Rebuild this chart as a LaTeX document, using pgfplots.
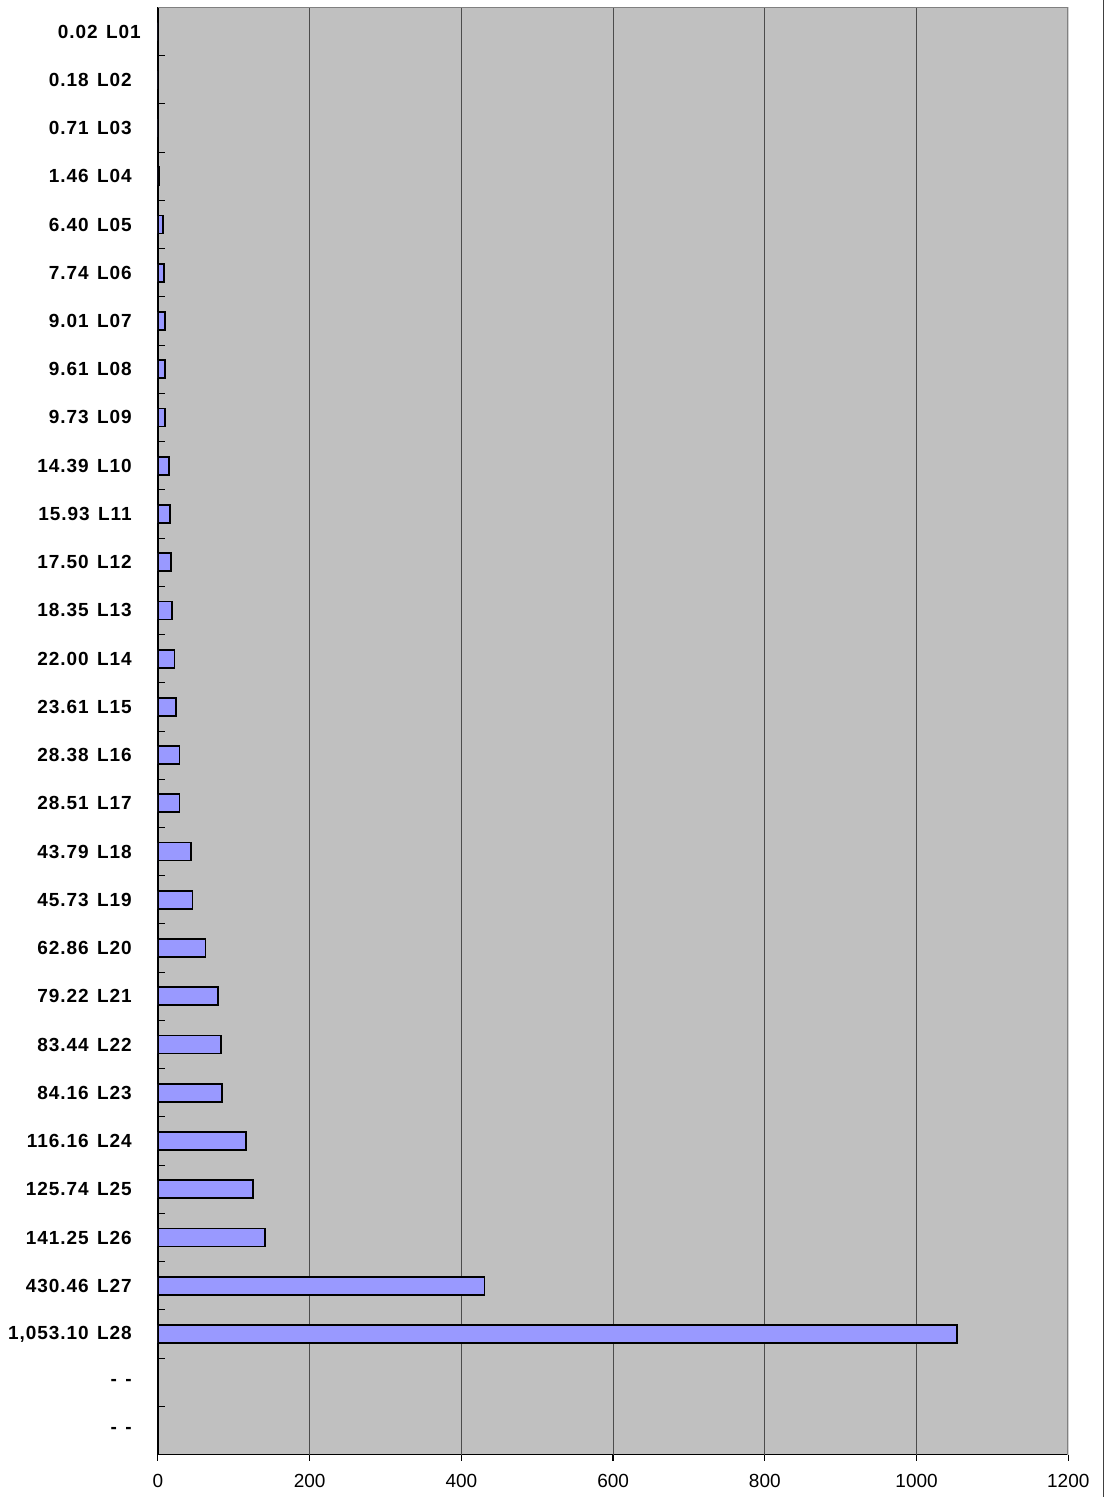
\documentclass[border=0pt]{standalone}
\usepackage{pgfplots}
\pgfplotsset{compat=1.18}
\usepackage{fontspec}
\setmainfont{Liberation Sans}
\newfontfamily\labfont[LetterSpace=5, WordSpace=1.35]{Liberation Sans}
\definecolor{bgray}{RGB}{192,192,192}
\definecolor{barblue}{RGB}{153,153,255}
\definecolor{edgegray}{RGB}{128,128,128}

% position from bottom (0) to top (29); rows 0 and 1 are the empty "- -" rows
\pgfplotstableread{
pos val
29 0.02
28 0.18
27 0.71
26 1.46
25 6.40
24 7.74
23 9.01
22 9.61
21 9.73
20 14.39
19 15.93
18 17.50
17 18.35
16 22.00
15 23.61
14 28.38
13 28.51
12 43.79
11 45.73
10 62.86
9 79.22
8 83.44
7 84.16
6 116.16
5 125.74
4 141.25
3 430.46
2 1053.10
}\data

\begin{document}
\begin{tikzpicture}
\path (0,0) rectangle (1106pt,1497pt);
\draw[black!75, line width=1pt] (1104pt,0) -- (1104pt,1497pt);
\begin{axis}[
    at={(158pt,42pt)}, anchor=south west,
    scale only axis,
    width=911pt, height=1448pt,
    xbar, bar width=18pt,
    xmin=0, xmax=1200,
    ymin=-0.5, ymax=29.5,
    axis lines*=left,
    axis line style={black, line width=1.8pt},
    axis background/.style={fill=bgray},
    xtick={0,200,...,1200},
    extra x ticks={200,400,...,1000},
    extra x tick style={grid=major, tick style={draw=none}, xticklabels={}},
    major grid style={black!70, line width=1pt},
    ytick={0,...,29},
    yticklabels={- -,- -,{1,053.10 L28},430.46 L27,141.25 L26,125.74 L25,116.16 L24,84.16 L23,83.44 L22,79.22 L21,62.86 L20,45.73 L19,43.79 L18,28.51 L17,28.38 L16,23.61 L15,22.00 L14,18.35 L13,17.50 L12,15.93 L11,14.39 L10,9.73 L09,9.61 L08,9.01 L07,7.74 L06,6.40 L05,1.46 L04,0.71 L03,0.18 L02,0.02 L01\kern-9pt},
    minor ytick={0.5,1.5,...,28.5},
    tick align=outside,
    major tick length=6pt,
    minor tick length=7pt,
    major y tick style={draw=none},
    minor y tick style={xshift=7pt, black, line width=1pt},
    major x tick style={black, line width=1.2pt},
    yticklabel style={font=\labfont\bfseries\fontsize{19}{22}\selectfont, anchor=east, inner sep=0pt, xshift=-20pt},
    xticklabel style={font=\fontsize{19}{22}\selectfont, inner sep=0pt, yshift=-14pt},
    /pgf/number format/1000 sep={},
    /pgf/number format/assume math mode=true,
]
\addplot[fill=barblue, draw=black, line width=1.8pt] table[x=val, y=pos] {\data};
\draw[edgegray, line width=2pt] (rel axis cs:0,1) -- (rel axis cs:1,1) -- (rel axis cs:1,0);
\end{axis}
\end{tikzpicture}
\end{document}
